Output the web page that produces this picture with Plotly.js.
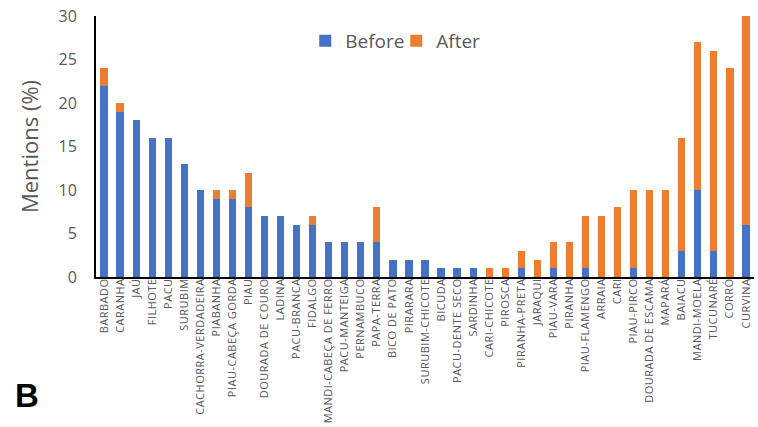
<!DOCTYPE html>
<html>
<head>
<meta charset="utf-8">
<script src="https://cdn.plot.ly/plotly-3.0.1.min.js"></script>
<style>html,body{margin:0;padding:0;background:#fff;}#chart{width:758px;height:427px;}
.xtick text{letter-spacing:0.5px;}</style>
</head>
<body>
<div id="chart"></div>
<script>
const categories = ["BARBADO","CARANHA","JAÚ","FILHOTE","PACU","SURUBIM","CACHORRA-VERDADEIRA","PIABANHA","PIAU-CABEÇA GORDA","PIAU","DOURADA DE COURO","LADINA","PACU-BRANCA","FIDALGO","MANDI-CABEÇA DE FERRO","PACU-MANTEIGA","PERNAMBUCO","PAPA-TERRA","BICO DE PATO","PIRARARA","SURUBIM-CHICOTE","BICUDA","PACU-DENTE SECO","SARDINHA","CARI-CHICOTE","PIROSCA","PIRANHA-PRETA","JARAQUI","PIAU-VARA","PIRANHA","PIAU-FLAMENGO","ARRAIA","CARI","PIAU-PIRCO","DOURADA DE ESCAMA","MAPARÁ","BAIACU","MANDI-MOELA","TUCUNARÉ","CORRÓ","CURVINA"];
const before = [22,19,18,16,16,13,10,9,9,8,7,7,6,6,4,4,4,4,2,2,2,1,1,1,0,0,1,0,1,0,1,0,0,1,0,0,3,10,3,0,6];
const after  = [2,1,0,0,0,0,0,1,1,4,0,0,0,1,0,0,0,4,0,0,0,0,0,0,1,1,2,2,3,4,6,7,8,9,10,10,13,17,23,24,24];
const yTicks = [0,5,10,15,20,25,30];

const grey = "#595959";
const traces = [
  {type:"bar", name:"Before", x:categories, y:before, marker:{color:"#4472C4"}},
  {type:"bar", name:"After", x:categories, y:after, marker:{color:"#ED7D31"}}
];
const layout = {
  width:758, height:427,
  barmode:"stack", bargap:0.55,
  margin:{l:96, r:4, t:16, b:150},
  paper_bgcolor:"#fff", plot_bgcolor:"#fff",
  font:{family:"Open Sans, sans-serif", color:grey},
  showlegend:true,
  legend:{orientation:"h", traceorder:"normal", x:0.318, y:0.905, xanchor:"left", yanchor:"middle",
          font:{size:19, color:grey}, entrywidth:46, entrywidthmode:"pixels",
          bgcolor:"rgba(0,0,0,0)"},
  xaxis:{type:"category", tickangle:-90, tickfont:{size:11, color:grey},
         showline:true, linecolor:"#000", linewidth:2, ticks:"", showgrid:false, zeroline:false,
         ticklabelstandoff:-5, automargin:false},
  yaxis:{range:[0,30], tickvals:yTicks, ticktext:yTicks.map(String), tickfont:{size:16, color:grey},
         showline:true, linecolor:"#000", linewidth:2, ticks:"", showgrid:false, zeroline:false,
         ticklabelstandoff:14,
         title:{text:"Mentions (%)", font:{size:22, color:grey}, standoff:14}, automargin:false},
  annotations:[{text:"<b>B</b>", xref:"paper", yref:"paper", x:-0.105, y:-0.455, xanchor:"center", yanchor:"middle",
                showarrow:false, font:{size:33, color:"#000", family:"Liberation Sans, Arial, sans-serif"}}]
};
Plotly.newPlot("chart", traces, layout, {displayModeBar:false, staticPlot:true});
</script>
</body>
</html>
